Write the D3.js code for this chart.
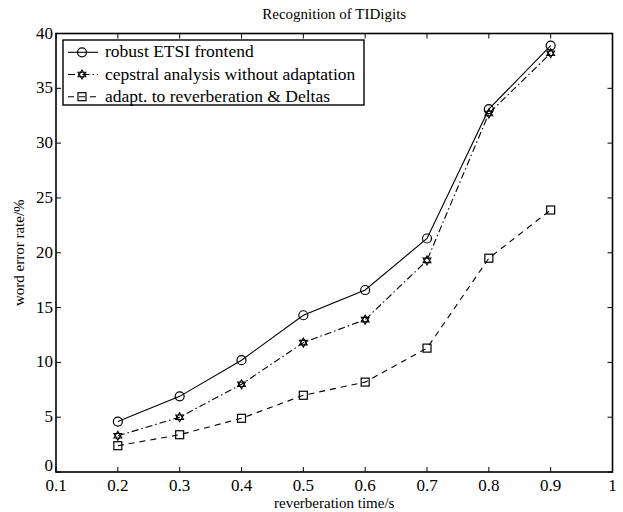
<!DOCTYPE html>
<html>
<head>
<meta charset="utf-8">
<title>Recognition of TIDigits</title>
<style>
  body { margin: 0; background: #fff; }
</style>
</head>
<body>
<script src="https://d3js.org/d3.v7.min.js"></script>
<script>
// reverberation times (s)
const times = [0.2, 0.3, 0.4, 0.5, 0.6, 0.7, 0.8, 0.9];
// word error rates (%)
const robustEtsi = [4.6, 6.9, 10.2, 14.3, 16.6, 21.3, 33.1, 38.9];
const cepstralNoAdapt = [3.3, 5.0, 8.0, 11.8, 13.9, 19.3, 32.7, 38.2];
const adaptDeltas = [2.4, 3.4, 4.9, 7.0, 8.2, 11.3, 19.5, 23.9];

const seriesNames = [
  "robust ETSI frontend",
  "cepstral analysis without adaptation",
  "adapt. to reverberation & Deltas"
];
const xTicks = [0.1, 0.2, 0.3, 0.4, 0.5, 0.6, 0.7, 0.8, 0.9, 1];
const yTicks = [0, 5, 10, 15, 20, 25, 30, 35, 40];

const width = 623, height = 512;
const margin = { left: 56, right: 10.5, top: 33.5, bottom: 40 };
const font = "'Liberation Serif', 'Times New Roman', Times, serif";

const svg = d3.select("body").append("svg")
  .attr("width", width).attr("height", height)
  .attr("font-family", font);

const x = d3.scaleLinear().domain([0.1, 1]).range([margin.left, width - margin.right]);
const y = d3.scaleLinear().domain([0, 40]).range([height - margin.bottom, margin.top]);

// ticks pointing inward on all four sides
const tickLen = 5;
const g = svg.append("g").attr("stroke", "#000");
g.selectAll(".xb").data(xTicks).join("line")
  .attr("x1", d => x(d)).attr("x2", d => x(d))
  .attr("y1", y(0)).attr("y2", y(0) - tickLen);
g.selectAll(".xt").data(xTicks).join("line")
  .attr("x1", d => x(d)).attr("x2", d => x(d))
  .attr("y1", y(40)).attr("y2", y(40) + tickLen);
g.selectAll(".yl").data(yTicks).join("line")
  .attr("x1", x(0.1)).attr("x2", x(0.1) + tickLen)
  .attr("y1", d => y(d)).attr("y2", d => y(d));
g.selectAll(".yr").data(yTicks).join("line")
  .attr("x1", x(1)).attr("x2", x(1) - tickLen)
  .attr("y1", d => y(d)).attr("y2", d => y(d));

// frame
svg.append("rect")
  .attr("x", x(0.1)).attr("y", y(40))
  .attr("width", x(1) - x(0.1)).attr("height", y(0) - y(40))
  .attr("fill", "none").attr("stroke", "#000").attr("stroke-width", 1.6);

// tick labels
svg.selectAll(".xlab").data(xTicks).join("text")
  .attr("x", d => x(d)).attr("y", y(0) + 19)
  .attr("text-anchor", "middle").attr("font-size", 17)
  .text(d => d === 1 ? "1" : d3.format(".1f")(d));
svg.selectAll(".ylab").data(yTicks).join("text")
  .attr("x", x(0.1) - 3).attr("y", d => y(d) + (d === 0 ? -1 : 5))
  .attr("text-anchor", "end").attr("font-size", 17)
  .text(d => d);

// titles
svg.append("text").attr("x", (x(0.1) + x(1)) / 2).attr("y", 19)
  .attr("text-anchor", "middle").attr("font-size", 15)
  .text("Recognition of TIDigits");
svg.append("text").attr("x", (x(0.1) + x(1)) / 2).attr("y", 508)
  .attr("text-anchor", "middle").attr("font-size", 15)
  .text("reverberation time/s");
svg.append("text")
  .attr("transform", `translate(24,${(y(0) + y(40)) / 2}) rotate(-90)`)
  .attr("text-anchor", "middle").attr("font-size", 15)
  .text("word error rate/%");

const series = [
  { name: seriesNames[0], values: robustEtsi, dash: null, marker: "circle" },
  { name: seriesNames[1], values: cepstralNoAdapt, dash: "7,3,1.5,3", marker: "star" },
  { name: seriesNames[2], values: adaptDeltas, dash: "6,5", marker: "square" }
];

const line = d3.line().x((d, i) => x(times[i])).y(d => y(d));

function drawMarker(sel, type) {
  if (type === "circle") {
    sel.append("circle").attr("r", 4.5)
      .attr("fill", "none").attr("stroke", "#000").attr("stroke-width", 1.2);
  } else if (type === "square") {
    sel.append("rect").attr("x", -4).attr("y", -4).attr("width", 8).attr("height", 8)
      .attr("fill", "none").attr("stroke", "#000").attr("stroke-width", 1.2);
  } else {
    const r = 4.5;
    const tri = a => d3.range(3).map(k => {
      const t = a + k * 2 * Math.PI / 3;
      return [r * Math.cos(t), r * Math.sin(t)];
    });
    sel.append("polygon").attr("points", tri(-Math.PI / 2).join(" "))
      .attr("fill", "none").attr("stroke", "#000").attr("stroke-width", 1.1);
    sel.append("polygon").attr("points", tri(Math.PI / 2).join(" "))
      .attr("fill", "none").attr("stroke", "#000").attr("stroke-width", 1.1);
  }
}

series.forEach(s => {
  svg.append("path").datum(s.values)
    .attr("d", line)
    .attr("fill", "none").attr("stroke", "#000").attr("stroke-width", 1.1)
    .attr("stroke-dasharray", s.dash);
  s.values.forEach((v, i) => {
    const m = svg.append("g").attr("transform", `translate(${x(times[i])},${y(v)})`);
    drawMarker(m, s.marker);
  });
});

// legend
const lg = svg.append("g").attr("transform", "translate(63,40)");
lg.append("rect").attr("width", 301).attr("height", 65)
  .attr("fill", "#fff").attr("stroke", "#000").attr("stroke-width", 1.4);
series.forEach((s, i) => {
  const yy = 12.3 + i * 22.2;
  lg.append("line").attr("x1", 5).attr("x2", 35).attr("y1", yy).attr("y2", yy)
    .attr("stroke", "#000").attr("stroke-width", 1.1)
    .attr("stroke-dasharray", s.dash);
  const m = lg.append("g").attr("transform", `translate(19,${yy})`);
  drawMarker(m, s.marker);
  lg.append("text").attr("x", 42).attr("y", yy + 5).attr("font-size", 17.5).text(s.name);
});
</script>
</body>
</html>
